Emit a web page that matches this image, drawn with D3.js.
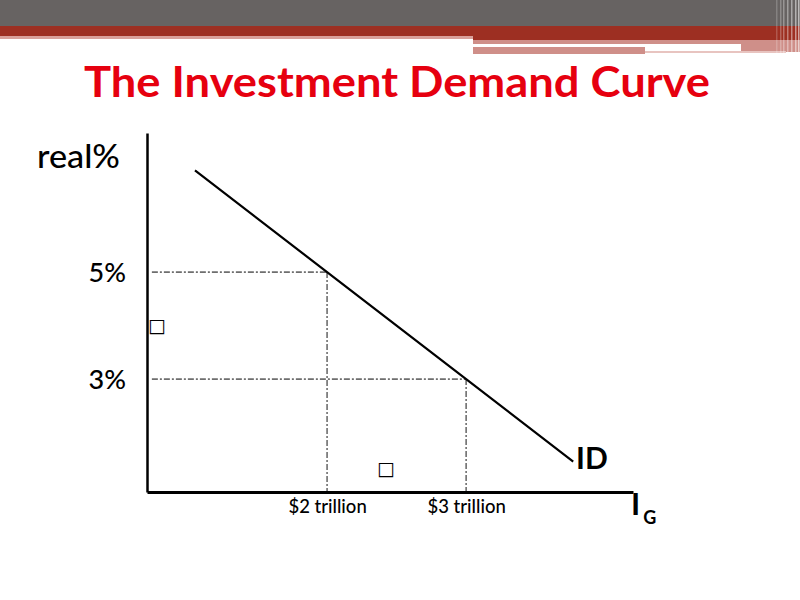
<!DOCTYPE html>
<html>
<head>
<meta charset="utf-8">
<script src="https://cdn.jsdelivr.net/npm/d3@7"></script>
<style>
  body { margin: 0; background: #fff; }
  svg { display: block; }
</style>
</head>
<body>
<svg id="chart" width="800" height="600"></svg>
<script>
// values (quantity in $ trillion, real rate in %)
const curveQty = [1.05, 2, 3, 3.77];
const curveRate = [6.9, 5, 3, 1.46];
const rateTicks = [5, 3];
const rateLabels = ['5%', '3%'];
const qtyTicks = [2, 3];
const qtyLabels = ['$2 trillion', '$3 trillion'];
const guides = [{ q: 2, r: 5 }, { q: 3, r: 3 }];

const svg = d3.select('#chart');
const font = 'Lato, "Open Sans", sans-serif';

// header bands
const bands = [
  { x: 0, y: 0, w: 800, h: 26, c: '#676362' },
  { x: 0, y: 26, w: 473, h: 10, c: '#9d2f22' },
  { x: 0, y: 36, w: 473, h: 3, c: '#d9a09a' },
  { x: 473, y: 26, w: 327, h: 14, c: '#9d2f22' },
  { x: 473, y: 40, w: 327, h: 4, c: '#cf8f89' },
  { x: 473, y: 44, w: 268, h: 3, c: '#ffffff' },
  { x: 741, y: 44, w: 59, h: 8, c: '#cf8f89' },
  { x: 473, y: 47, w: 172, h: 7, c: '#cf8f89' },
  { x: 645, y: 51, w: 141, h: 2, c: '#e8c4c0' }
];
svg.append('g').selectAll('rect').data(bands).join('rect')
  .attr('x', d => d.x).attr('y', d => d.y)
  .attr('width', d => d.w).attr('height', d => d.h)
  .attr('fill', d => d.c);

// faded vertical stripes on the right edge
const stripes = [776, 780, 783, 787, 791, 795, 798];
svg.append('g').selectAll('rect').data(stripes).join('rect')
  .attr('x', d => d).attr('y', 0)
  .attr('width', 1.5).attr('height', 56)
  .attr('fill', '#ffffff').attr('opacity', (d, i) => 0.2 + 0.06 * i);

// title
svg.append('text')
  .attr('x', 397).attr('y', 97)
  .attr('text-anchor', 'middle')
  .attr('font-family', font).attr('font-weight', 'bold')
  .attr('font-size', 42).attr('fill', '#e6000f')
  .attr('textLength', 626).attr('lengthAdjust', 'spacingAndGlyphs')
  .text('The Investment Demand Curve');

const x = d3.scaleLinear().domain([0.705, 4.2]).range([147, 633]);
const y = d3.scaleLinear().domain([0.89, 7.6]).range([492, 133]);

// dash-dot guides
const g = svg.append('g')
  .attr('stroke', '#6e6e6e').attr('stroke-width', 1.6)
  .attr('stroke-dasharray', '6,2,2,2').attr('fill', 'none');
g.selectAll('.h').data(guides).join('line').attr('class', 'h')
  .attr('x1', x(0.74)).attr('x2', d => x(d.q))
  .attr('y1', d => y(d.r)).attr('y2', d => y(d.r));
g.selectAll('.v').data(guides).join('line').attr('class', 'v')
  .attr('x1', d => x(d.q)).attr('x2', d => x(d.q))
  .attr('y1', d => y(d.r)).attr('y2', y(0.89));

// axes
const yAxis = svg.append('g')
  .attr('transform', `translate(${x(0.705)},0)`)
  .call(d3.axisLeft(y).tickValues(rateTicks).tickSize(0).tickSizeOuter(0)
    .tickPadding(21).tickFormat((d, i) => rateLabels[i]));
yAxis.select('.domain').attr('stroke', '#000').attr('stroke-width', 2.5);
yAxis.selectAll('text').attr('font-family', font).attr('font-size', 27)
  .attr('font-weight', 500).attr('fill', '#000').attr('dy', '0.35em');

const xAxis = svg.append('g')
  .attr('transform', `translate(0,${y(0.89)})`)
  .call(d3.axisBottom(x).tickValues(qtyTicks).tickSize(0).tickSizeOuter(0)
    .tickPadding(8).tickFormat((d, i) => qtyLabels[i]));
xAxis.select('.domain').attr('stroke', '#000').attr('stroke-width', 3);
xAxis.selectAll('text').attr('font-family', font).attr('font-size', 18.5)
  .attr('font-weight', 500).attr('fill', '#000');

// investment demand line
const pts = curveQty.map((q, i) => [q, curveRate[i]]);
svg.append('path')
  .datum(pts)
  .attr('fill', 'none').attr('stroke', '#000').attr('stroke-width', 2.2)
  .attr('d', d3.line().x(d => x(d[0])).y(d => y(d[1])));

// labels
svg.append('text').attr('x', 37).attr('y', 168)
  .attr('font-family', font).attr('font-size', 33).attr('font-weight', 500)
  .attr('fill', '#000')
  .attr('textLength', 83).attr('lengthAdjust', 'spacingAndGlyphs')
  .text('real%');
svg.append('text').attr('x', 576).attr('y', 469)
  .attr('font-family', font).attr('font-weight', 'bold')
  .attr('font-size', 30).attr('fill', '#000')
  .text('ID');
const ig = svg.append('text').attr('x', 631).attr('y', 515)
  .attr('font-family', font).attr('font-weight', 'bold')
  .attr('font-size', 31).attr('fill', '#000');
ig.append('tspan').text('I');
ig.append('tspan').attr('dx', 3).attr('dy', 9)
  .attr('font-size', 18).text('G');

// missing-glyph boxes from the original slide
svg.append('text').attr('x', 148).attr('y', 332)
  .attr('font-family', 'DejaVu Sans').attr('font-size', 19).attr('fill', '#000')
  .text('□');
svg.append('text').attr('x', 377).attr('y', 475)
  .attr('font-family', 'DejaVu Sans').attr('font-size', 19).attr('fill', '#000')
  .text('□');
</script>
</body>
</html>
